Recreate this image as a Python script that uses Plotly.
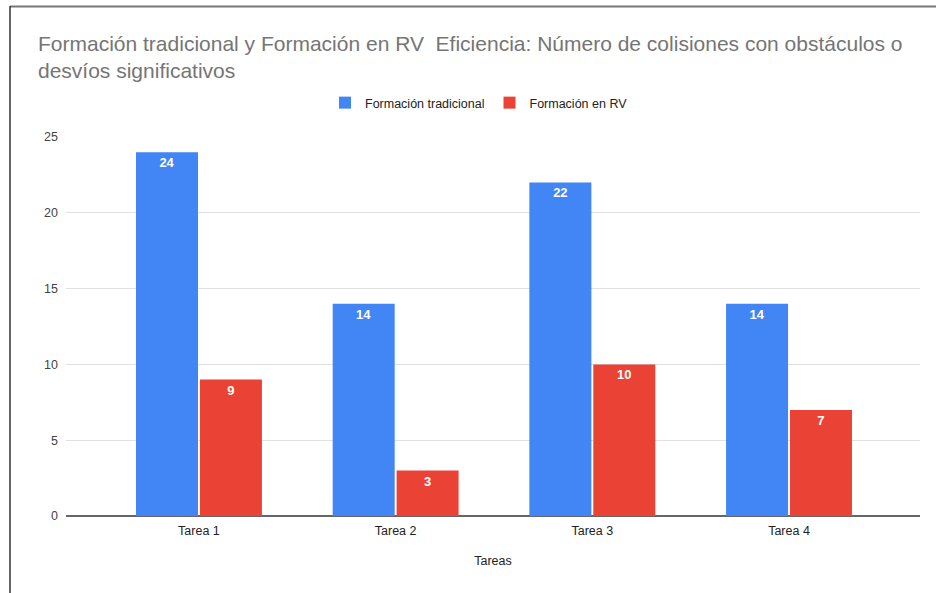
import plotly.graph_objects as go

categories = ["Tarea 1", "Tarea 2", "Tarea 3", "Tarea 4"]
tradicional = [24, 14, 22, 14]
rv = [9, 3, 10, 7]
y_ticks = [0, 5, 10, 15, 20, 25]

W, H = 936, 593
L, R, T, B = 66, 16, 137, 77

FONT = "Liberation Sans, Arial, sans-serif"

fig = go.Figure()
fig.add_trace(go.Bar(
    name="Formación tradicional", x=categories, y=tradicional,
    marker=dict(color="#4285f4", line=dict(width=0)),
    text=tradicional, textposition="inside", insidetextanchor="end",
    textfont=dict(color="white", size=13, family=FONT, weight="bold"),
))
fig.add_trace(go.Bar(
    name="Formación en RV", x=categories, y=rv,
    marker=dict(color="#ea4335", line=dict(width=0)),
    text=rv, textposition="inside", insidetextanchor="end",
    textfont=dict(color="white", size=13, family=FONT, weight="bold"),
))

fig.update_layout(
    width=W, height=H,
    margin=dict(l=L, r=R, t=T, b=B, pad=0),
    paper_bgcolor="white", plot_bgcolor="white",
    barmode="group", bargap=0.35, bargroupgap=0.03,
    font=dict(family=FONT, color="#444444", size=12),
    title=dict(
        text="Formación tradicional y Formación en RV\u00a0 Eficiencia: Número de colisiones con obstáculos o<br>desvíos significativos",
        x=38 / W, xref="container", xanchor="left",
        y=1 - 51 / H, yref="container", yanchor="top",
        font=dict(size=21, color="#757575", family=FONT),
    ),
    legend=dict(
        orientation="h", x=479 / W, xanchor="center", xref="container",
        y=1 - 103 / H, yanchor="middle", yref="container",
        font=dict(size=12.5, color="#222222", family=FONT),
        itemwidth=30, traceorder="normal",
    ),
    showlegend=True,
)

fig.update_xaxes(
    range=[-0.676, 3.666], showgrid=False, showline=False, zeroline=False,
    ticks="", ticklabelstandoff=5, tickfont=dict(size=12.5, color="#222222"),
    title=dict(text="Tareas", font=dict(size=12.5, color="#222222"), standoff=19),
)
fig.update_yaxes(
    range=[0, 25], tickvals=y_ticks, showgrid=True, gridcolor="#e0e0e0",
    gridwidth=1, zeroline=True, zerolinecolor="#666666", zerolinewidth=2,
    showline=False, ticks="", ticklabelstandoff=7,
    tickfont=dict(size=12.5, color="#444444"),
)

# frame lines of the screenshot
fig.add_shape(type="line", xref="paper", yref="paper",
              x0=(10 - L) / (W - L - R), x1=(W - L) / (W - L - R),
              y0=1 + (T - 6.5) / (H - T - B), y1=1 + (T - 6.5) / (H - T - B),
              line=dict(color="#777777", width=2), layer="above")
fig.add_shape(type="line", xref="paper", yref="paper",
              x0=(10 - L) / (W - L - R), x1=(10 - L) / (W - L - R),
              y0=1 + (T - 6) / (H - T - B), y1=-B / (H - T - B),
              line=dict(color="#333333", width=1.5), layer="above")

fig.write_html("out.html", config={"displayModeBar": False},
               post_script="document.body.style.margin='0';")
